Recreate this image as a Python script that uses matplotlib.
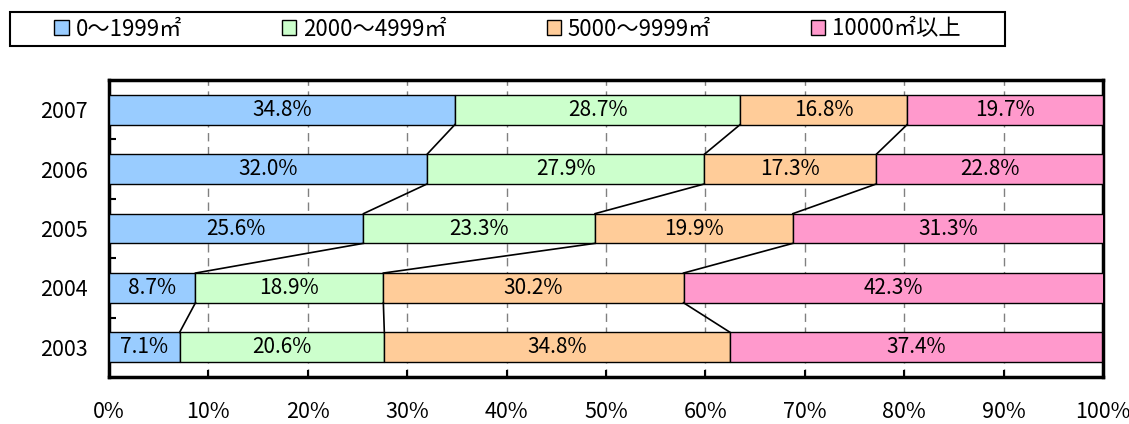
import matplotlib
matplotlib.use("Agg")
import matplotlib.pyplot as plt
from matplotlib.patches import Patch, Rectangle
from matplotlib.ticker import FixedLocator, FuncFormatter
import numpy as np

plt.rcParams['font.family'] = ['Noto Sans CJK JP', 'DejaVu Sans']

years = ["2003", "2004", "2005", "2006", "2007"]
size_labels = ["0～1999㎡", "2000～4999㎡", "5000～9999㎡", "10000㎡以上"]
colors = ["#99CCFF", "#CCFFCC", "#FFCC99", "#FF99CC"]

share_0_1999 = [7.1, 8.7, 25.6, 32.0, 34.8]
share_2000_4999 = [20.6, 18.9, 23.3, 27.9, 28.7]
share_5000_9999 = [34.8, 30.2, 19.9, 17.3, 16.8]
share_10000_up = [37.4, 42.3, 31.3, 22.8, 19.7]

series = [share_0_1999, share_2000_4999, share_5000_9999, share_10000_up]

fig = plt.figure(figsize=(11.29, 4.24), dpi=100)
ax = fig.add_axes([109 / 1129, 1 - 377 / 424, 994 / 1129, 297 / 424])

y = np.arange(len(years))
bar_h = 0.5
left = np.zeros(len(years))
bounds = []
for vals, col in zip(series, colors):
    vals = np.array(vals)
    ax.barh(y, vals, left=left, height=bar_h, color=col,
            edgecolor="black", linewidth=1.0, zorder=3)
    for yi, (l, v) in enumerate(zip(left, vals)):
        ax.text(l + v / 2, yi, f"{v:.1f}%", ha="center", va="center",
                fontsize=15, zorder=5)
    left = left + vals
    bounds.append(left.copy())

# series lines joining segment boundaries of neighbouring years
for b in bounds[:-1]:
    for i in range(len(years) - 1):
        ax.plot([b[i], b[i + 1]], [y[i] + bar_h / 2, y[i + 1] - bar_h / 2],
                color="black", linewidth=1.2, zorder=4)

ax.set_xlim(0, 100)
ax.set_ylim(-0.5, len(years) - 0.5)
ax.xaxis.set_major_locator(FixedLocator(np.arange(0, 101, 10)))
ax.xaxis.set_major_formatter(FuncFormatter(lambda v, p: f"{v:.0f}%"))
ax.set_yticks(y)
ax.set_yticklabels(years)
ax.yaxis.set_minor_locator(FixedLocator(np.arange(0.5, len(years) - 0.5, 1)))
ax.tick_params(axis="y", which="major", length=0, pad=15, labelsize=15.5)
ax.tick_params(axis="y", which="minor", direction="in", length=5, width=1.5)
ax.tick_params(axis="x", direction="in", length=5, width=1.5, pad=17,
               labelsize=15.5)
ax.tick_params(top=False, right=False)

for x in np.arange(10, 100, 10):
    ax.axvline(x, color="#808080", linewidth=1.0, linestyle=(0, (6, 4)),
               zorder=1)

for s in ax.spines.values():
    s.set_linewidth(2.5)

# legend box spanning the top of the figure
box = (10 / 1129, 1 - 46 / 424, 995 / 1129, 34 / 424)
fig.patches.append(Rectangle(box[:2], box[2], box[3], transform=fig.transFigure,
                             facecolor="white", edgecolor="black",
                             linewidth=1.5))
handles = [Patch(facecolor=c, edgecolor="black", linewidth=1.0) for c in colors]
fig.legend(handles, size_labels, ncol=4, loc="center", bbox_to_anchor=box,
           fontsize=16, handlelength=0.65, handleheight=0.65,
           handletextpad=0.3, columnspacing=4.5, borderaxespad=0,
           frameon=False, borderpad=0.25)

fig.savefig("out.png", dpi=100)
